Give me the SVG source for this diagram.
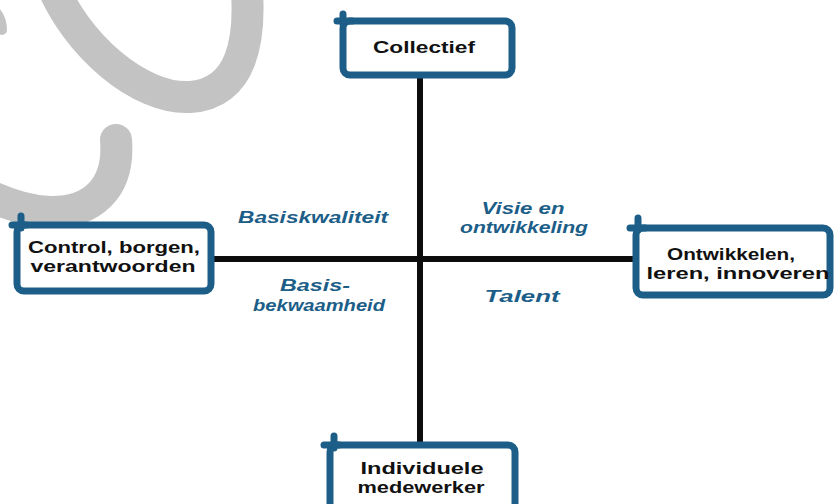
<svg xmlns="http://www.w3.org/2000/svg" width="834" height="504" viewBox="0 0 834 504">
<style>
.bg{fill:#ffffff}
.deco{fill:none;stroke:#c3c3c3;stroke-width:32;stroke-linecap:round}
.box{fill:#ffffff;stroke:#1c5e88;stroke-width:7;stroke-linejoin:round}
.tick{fill:none;stroke:#1c5e88;stroke-width:7;stroke-linecap:round}
.axis{fill:none;stroke:#0d0d0d;stroke-width:6}
.nt{font-family:"Liberation Sans",Arial,sans-serif;font-weight:700;font-size:17px;fill:#111111;text-anchor:middle}
.qt{font-family:"Liberation Sans",Arial,sans-serif;font-weight:700;font-style:italic;font-size:17px;fill:#1c5e88;text-anchor:middle}
</style>
<rect class="bg" x="0" y="0" width="834" height="504"/>
<g id="decoration">
<path class="deco" d="M50,-20 C75,45 140,100 190,97 C242,94 252,40 246,-20"/>
<path class="deco" d="M116,140 C120,190 90,213 50,212 C25,211 5,203 -10,196"/>
<path d="M-6,10 Q2,18 2,30" fill="none" stroke="#c3c3c3" stroke-width="10" stroke-linecap="round"/>
</g>
<g id="connectors">
<line class="axis" x1="420" y1="75" x2="420" y2="445"/>
<line class="axis" x1="211" y1="259" x2="636" y2="259"/>
</g>
<g id="node-collectief">
<rect class="box" x="343" y="21" width="169" height="54" rx="7"/>
<path class="tick" d="M337,21 L352,21 M343,14 L343,24"/>
<text class="nt" x="424" y="53" textLength="102" lengthAdjust="spacingAndGlyphs">Collectief</text>
</g>
<g id="node-control">
<rect class="box" x="17" y="225" width="194" height="66" rx="7"/>
<path class="tick" d="M12,225 L26,225 M21,216 L21,228"/>
<text class="nt" x="114" y="253" textLength="172" lengthAdjust="spacingAndGlyphs">Control, borgen,</text>
<text class="nt" x="113" y="272" textLength="165" lengthAdjust="spacingAndGlyphs">verantwoorden</text>
</g>
<g id="node-ontwikkelen">
<rect class="box" x="636" y="228" width="194" height="67" rx="7"/>
<path class="tick" d="M630,228 L645,228 M638,218 L638,230"/>
<text class="nt" x="731" y="260" textLength="128" lengthAdjust="spacingAndGlyphs">Ontwikkelen,</text>
<text class="nt" x="738" y="279" textLength="183" lengthAdjust="spacingAndGlyphs">leren, innoveren</text>
</g>
<g id="node-individuele">
<rect class="box" x="330" y="445" width="185" height="72" rx="7"/>
<path class="tick" d="M324,445 L339,445 M334,436 L334,448"/>
<text class="nt" x="422" y="474" textLength="123" lengthAdjust="spacingAndGlyphs">Individuele</text>
<text class="nt" x="421" y="493" textLength="127" lengthAdjust="spacingAndGlyphs">medewerker</text>
</g>
<g id="quadrant-labels">
<text class="qt" x="313" y="223" textLength="150" lengthAdjust="spacingAndGlyphs">Basiskwaliteit</text>
<text class="qt" x="523" y="214" textLength="83" lengthAdjust="spacingAndGlyphs">Visie en</text>
<text class="qt" x="524" y="233" textLength="128" lengthAdjust="spacingAndGlyphs">ontwikkeling</text>
<text class="qt" x="315" y="291" textLength="70" lengthAdjust="spacingAndGlyphs">Basis-</text>
<text class="qt" x="319" y="311" textLength="132" lengthAdjust="spacingAndGlyphs">bekwaamheid</text>
<text class="qt" x="522" y="302" textLength="75" lengthAdjust="spacingAndGlyphs">Talent</text>
</g>
</svg>
